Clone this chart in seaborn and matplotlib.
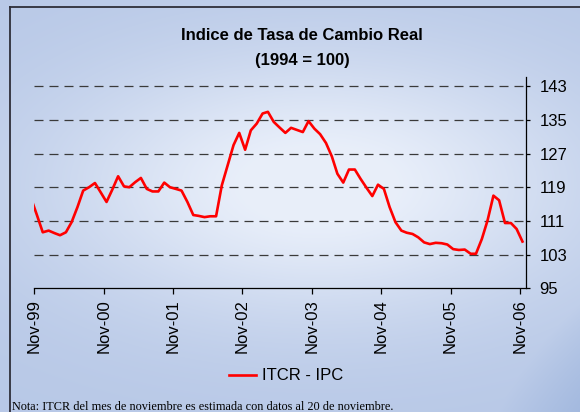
import numpy as np
import pandas as pd
import matplotlib
matplotlib.use("Agg")
import matplotlib.pyplot as plt
import matplotlib.dates as mdates
from matplotlib.lines import Line2D
import seaborn as sns

# ---------------- data ----------------
start_month = "1999-10-01"
end_month = "2006-11-01"
itcr = [
    116.3,                                                          # Oct-99
    112.3, 108.3,                                                   # Nov-Dec 99
    108.7, 108.1, 107.6, 108.3, 110.7, 114.3, 118.2, 119.0, 120.0, 117.8, 115.5, 118.4,  # 2000
    121.6, 119.2, 119.0, 120.2, 121.2, 118.6, 118.0, 118.0, 120.1, 119.0, 118.6, 118.2,  # 2001
    115.5, 112.4, 112.2, 111.9, 112.1, 112.1, 119.4, 124.2, 129.0, 131.9, 127.9, 132.5,  # 2002
    134.1, 136.5, 136.9, 134.5, 133.2, 131.9, 133.1, 132.6, 132.1, 134.7, 132.9, 131.6,  # 2003
    129.5, 126.3, 122.2, 120.1, 123.2, 123.2, 121.0, 118.9, 116.9, 119.6, 118.6, 114.3,  # 2004
    110.7, 108.7, 108.2, 107.9, 107.1, 105.9, 105.5, 105.8, 105.7, 105.4, 104.3, 104.1,  # 2005
    104.2, 103.2, 103.2, 106.7, 111.1, 117.0, 115.9, 110.5, 110.5, 109.1, 106.1,         # 2006
]
y_ticks = [95, 103, 111, 119, 127, 135, 143]
tick_years = [1999, 2000, 2001, 2002, 2003, 2004, 2005, 2006]
series_label = "ITCR - IPC"
title_line1 = "Indice de Tasa de Cambio Real"
title_line2 = "(1994 = 100)"
note_text = "Nota: ITCR del mes de noviembre es estimada con datos al 20 de noviembre."

dates = pd.date_range(start_month, end_month, freq="MS") + pd.Timedelta(days=14)
df = pd.DataFrame({"fecha": dates, "valor": itcr})

# ---------------- figure ----------------
plt.rcParams["font.family"] = ["Liberation Sans", "DejaVu Sans"]
W, H, DPI = 580, 412, 100
fig = plt.figure(figsize=(W / DPI, H / DPI), dpi=DPI)

# background gradient (decorative)
bg_ax = fig.add_axes([0, 0, 1, 1], zorder=-10)
yy, xx = np.mgrid[0:1:H * 1j, 0:1:W * 1j]
base = np.array([0.72, 0.785, 0.905])
light = np.array([0.91, 0.935, 0.98])
dark = np.array([0.55, 0.66, 0.84])
w_light = np.exp(-(((xx - 0.55) / 0.45) ** 2 + ((yy - 0.45) / 0.32) ** 2))
w_light = np.clip(w_light * 1.1, 0, 1)
img = base[None, None, :] * (1 - w_light[..., None]) + light[None, None, :] * w_light[..., None]
r = np.sqrt(((xx - 1.55) / 0.75) ** 2 + ((yy - 1.35) / 0.9) ** 2)
w_dark = np.clip((1.0 - r) * 4.0, 0, 1) * np.clip((yy - 0.45) * 3, 0, 1)
img = img * (1 - 0.7 * w_dark[..., None]) + dark[None, None, :] * 0.7 * w_dark[..., None]
bg_ax.imshow(img, extent=[0, 1, 0, 1], aspect="auto", interpolation="bilinear")
bg_ax.set_xlim(0, 1)
bg_ax.set_ylim(0, 1)
bg_ax.axis("off")

# frame lines
fy = 1 - 7 / H
fx = 10 / W
fig.add_artist(Line2D([fx, fx], [0, fy], transform=fig.transFigure, color="#2e2e38", lw=1.3))
fig.add_artist(Line2D([fx, 1], [fy, fy], transform=fig.transFigure, color="#2e2e38", lw=1.3))

# main axes
left, right = 34.4 / W, 525.5 / W
bottom, top = 1 - 288.3 / H, 1 - 77.3 / H
ax = fig.add_axes([left, bottom, right - left, top - bottom])
ax.set_facecolor("none")

sns.lineplot(data=df, x="fecha", y="valor", ax=ax, color="#ff0000", lw=1.9,
             label=series_label, legend=False)

ax.set_xlim(pd.Timestamp("1999-11-01"), pd.Timestamp("2006-12-01"))
ax.set_ylim(95, 145.1)
ax.set_yticks(y_ticks)
ax.set_xticks([pd.Timestamp(f"{y}-11-01") for y in tick_years])
ax.xaxis.set_major_formatter(mdates.DateFormatter("%b-%y"))
ax.yaxis.tick_right()
ax.yaxis.set_label_position("right")
ax.set_xlabel("")
ax.set_ylabel("")

for s in ["left", "top"]:
    ax.spines[s].set_visible(False)
for s in ["bottom", "right"]:
    ax.spines[s].set_color("black")
    ax.spines[s].set_linewidth(0.9)

ax.tick_params(axis="x", direction="out", length=4.2, width=0.9, pad=3.5,
               labelsize=12, labelrotation=90, colors="black")
ax.tick_params(axis="y", direction="out", length=3, width=0.9, pad=7,
               labelsize=12, colors="black")

ax.grid(False)
for v in y_ticks[1:]:
    ax.axhline(v, color="#3a3a3a", lw=0.9, linestyle=(0, (7.2, 4.8)), zorder=1)

# titles
fig.text(0.521, 1 - 36 / H, title_line1, ha="center", va="center",
         fontsize=12, fontweight="bold")
fig.text(0.521, 1 - 60 / H, title_line2, ha="center", va="center",
         fontsize=12, fontweight="bold")

# legend
handles = [Line2D([0], [0], color="#ff0000", lw=1.9)]
fig.legend(handles, [series_label], loc="center", bbox_to_anchor=(286 / W, 1 - 376 / H),
           frameon=False, fontsize=12, handlelength=1.6, handletextpad=0.35)

# note
fig.text(12 / W, 1 - 407 / H, note_text, ha="left", va="center",
         fontsize=8.8, family=["Liberation Serif", "DejaVu Serif"])

fig.savefig("out.png", dpi=DPI)
